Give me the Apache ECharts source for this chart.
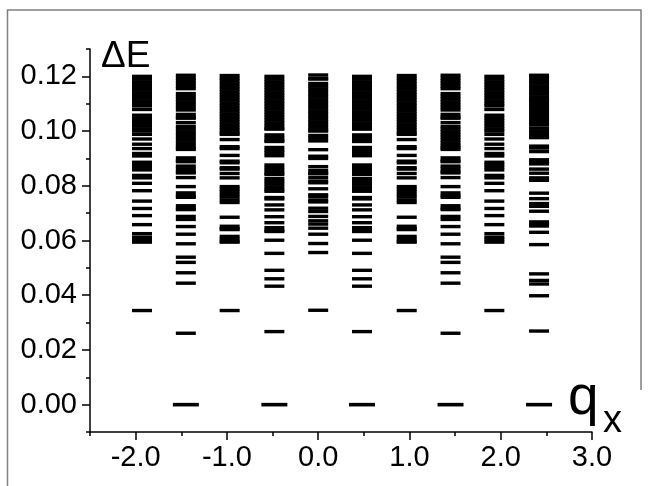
<!DOCTYPE html>
<html>
<head>
<meta charset="utf-8">
<script src="https://cdn.jsdelivr.net/npm/echarts@6/dist/echarts.min.js"></script>
<style>
html,body{margin:0;padding:0;background:#fff;}
#chart{width:650px;height:486px;}
</style>
</head>
<body>
<div id="chart"></div>
<script>
// ---- data ----
const qValues = [-1.93, -1.45, -0.97, -0.48, 0.00, 0.48, 0.97, 1.45, 1.93, 2.42];

const levelsK4 = [0.1200,0.1190,0.1180,0.1170,0.1160,0.1150,0.1140,0.1130,0.1120,0.1110,0.1100,0.1092,
  0.1079,0.1058,0.1048,0.1038,0.1028,0.1018,0.1008,0.1000,0.0988,0.0971,0.0952,0.0936,0.0918,0.0909,
  0.0886,0.0877,0.0868,0.0858,0.0838,0.0829,0.0809,0.0782,0.0744,0.0717,0.0691,0.0658,0.0625,0.0612,
  0.0604,0.0594,0.0344];
const levelsK3 = [0.1204,0.1194,0.1184,0.1174,0.1164,0.1155,0.1137,0.1127,0.1117,0.1107,0.1097,0.1087,
  0.1077,0.1061,0.1051,0.1047,0.1031,0.1017,0.1007,0.0997,0.0987,0.0977,0.0967,0.0957,0.0947,0.0939,
  0.0933,0.0902,0.0892,0.0888,0.0872,0.0862,0.0852,0.0847,0.0830,0.0797,0.0774,0.0764,0.0758,0.0727,
  0.0717,0.0713,0.0688,0.0677,0.0651,0.0623,0.0588,0.0539,0.0520,0.0482,0.0444,0.0261,0.0000];
const levelsK2 = [0.1203,0.1193,0.1183,0.1173,0.1163,0.1153,0.1143,0.1133,0.1123,0.1113,0.1103,0.1093,
  0.1083,0.1073,0.1063,0.1053,0.1043,0.1033,0.1023,0.1013,0.1003,0.0993,0.0988,0.0969,0.0943,0.0936,
  0.0911,0.0890,0.0884,0.0866,0.0861,0.0845,0.0829,0.0797,0.0788,0.0779,0.0768,0.0759,0.0748,0.0739,
  0.0685,0.0652,0.0643,0.0640,0.0615,0.0606,0.0597,0.0594,0.0344];
const levelsK1 = [0.1200,0.1190,0.1180,0.1170,0.1160,0.1150,0.1140,0.1130,0.1120,0.1110,0.1100,0.1090,
  0.1080,0.1070,0.1060,0.1050,0.1040,0.1030,0.1020,0.1010,0.1007,0.0986,0.0976,0.0966,0.0962,0.0940,
  0.0930,0.0920,0.0910,0.0876,0.0866,0.0856,0.0846,0.0841,0.0826,0.0816,0.0806,0.0796,0.0786,0.0780,
  0.0757,0.0752,0.0730,0.0712,0.0687,0.0665,0.0647,0.0637,0.0633,0.0601,0.0553,0.0491,0.0460,0.0433,
  0.0267,0.0000];
const levelsK0 = [0.1205,0.1193,0.1190,0.1174,0.1164,0.1154,0.1144,0.1134,0.1124,0.1114,0.1104,0.1094,
  0.1084,0.1074,0.1064,0.1054,0.1044,0.1034,0.1024,0.1014,0.1004,0.1000,0.0984,0.0974,0.0964,0.0932,
  0.0908,0.0900,0.0870,0.0856,0.0846,0.0844,0.0830,0.0817,0.0811,0.0789,0.0767,0.0761,0.0748,0.0741,
  0.0718,0.0706,0.0688,0.0672,0.0660,0.0645,0.0623,0.0589,0.0556,0.0345];
const levelsK5 = [0.1204,0.1195,0.1185,0.1175,0.1165,0.1155,0.1145,0.1135,0.1125,0.1115,0.1112,0.1100,
  0.1090,0.1083,0.1071,0.1061,0.1051,0.1043,0.1031,0.1023,0.1011,0.1001,0.0991,0.0981,0.0976,0.0945,
  0.0938,0.0925,0.0895,0.0885,0.0880,0.0861,0.0846,0.0829,0.0820,0.0773,0.0753,0.0735,0.0725,0.0707,
  0.0668,0.0660,0.0653,0.0630,0.0585,0.0478,0.0454,0.0441,0.0398,0.0269,0.0000];

const columnLevels = [levelsK4, levelsK3, levelsK2, levelsK1, levelsK0, levelsK1, levelsK2, levelsK3, levelsK4, levelsK5];

const xLabelValues = [-2, -1, 0, 1, 2, 3];
const xMinorValues = [-2.5, -1.5, -0.5, 0.5, 1.5, 2.5];
const yLabelValues = [0, 0.02, 0.04, 0.06, 0.08, 0.10, 0.12];
const yMinorValues = [-0.01, 0.01, 0.03, 0.05, 0.07, 0.09, 0.11, 0.13];

// ---- build ----
const points = [];
qValues.forEach((q, i) => columnLevels[i].forEach(e => points.push([q, e])));

const FONT = "'Liberation Sans', Arial, sans-serif";
const chart = echarts.init(document.getElementById('chart'), null, {renderer: 'canvas'});

const baseAxis = {
  type: 'value',
  splitLine: {show: false},
};

chart.setOption({
  animation: false,
  backgroundColor: '#fff',
  grid: {left: 90, top: 49, width: 502, height: 383, containLabel: false},
  xAxis: [
    Object.assign({}, baseAxis, {
      min: -2.5, max: 3.0, position: 'bottom',
      axisLine: {show: true, onZero: false, lineStyle: {color: '#000', width: 1.5}},
      axisTick: {show: true, inside: false, length: 8, customValues: xLabelValues, lineStyle: {color: '#000', width: 1.5}},
      axisLabel: {show: true, customValues: xLabelValues, margin: 11, color: '#000', fontSize: 29, fontFamily: FONT,
        formatter: v => v.toFixed(1)}
    }),
    Object.assign({}, baseAxis, {
      min: -2.5, max: 3.0, position: 'bottom', offset: 0,
      axisLine: {show: false, onZero: false},
      axisTick: {show: true, inside: false, length: 4, customValues: xMinorValues, lineStyle: {color: '#000', width: 1.5}},
      axisLabel: {show: false}
    })
  ],
  yAxis: [
    Object.assign({}, baseAxis, {
      min: -0.01, max: 0.13, position: 'left',
      axisLine: {show: true, onZero: false, lineStyle: {color: '#000', width: 1.5}},
      axisTick: {show: true, inside: false, length: 8, customValues: yLabelValues, lineStyle: {color: '#000', width: 1.5}},
      axisLabel: {show: true, customValues: yLabelValues, margin: 13, color: '#000', fontSize: 29, fontFamily: FONT,
        formatter: v => v.toFixed(2)}
    }),
    Object.assign({}, baseAxis, {
      min: -0.01, max: 0.13, position: 'left', offset: 0,
      axisLine: {show: false, onZero: false},
      axisTick: {show: true, inside: false, length: 4, customValues: yMinorValues, lineStyle: {color: '#000', width: 1.5}},
      axisLabel: {show: false}
    })
  ],
  series: [{
    type: 'scatter',
    xAxisIndex: 0, yAxisIndex: 0,
    data: points,
    symbol: 'rect',
    symbolSize: v => (v[1] === 0 ? [26, 3.6] : [20, 3.4]),
    itemStyle: {color: '#000', opacity: 1},
    emphasis: {disabled: true},
    clip: false
  }],
  graphic: [
    {type: 'polyline', shape: {points: [[641, 390], [641, 10], [7.5, 10], [7.5, 486]]},
      style: {stroke: '#808080', lineWidth: 1.5, fill: null}, silent: true},
    {type: 'text', left: 101, top: 38, style: {text: 'ΔE', fontSize: 37, fontFamily: FONT, fill: '#000'}},
    {type: 'text', left: 568, top: 371, style: {text: 'q', fontSize: 55, fontFamily: FONT, fill: '#000'}},
    {type: 'text', left: 603, top: 403, style: {text: 'x', fontSize: 38, fontFamily: FONT, fill: '#000'}}
  ]
});
</script>
</body>
</html>
